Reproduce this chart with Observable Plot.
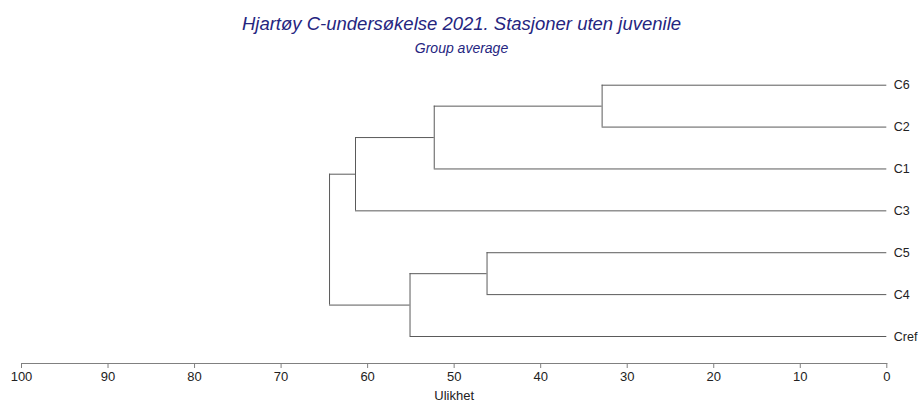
<!DOCTYPE html>
<html>
<head>
<meta charset="utf-8">
<script src="https://cdn.jsdelivr.net/npm/d3@7"></script>
<script src="https://cdn.jsdelivr.net/npm/@observablehq/plot@0.6"></script>
<style>
  html, body { margin: 0; padding: 0; background: #fff; }
  #wrap { position: relative; width: 923px; height: 401px; font-family: "Liberation Sans", Arial, sans-serif; }
  #head { position: relative; height: 52px; }
  .t1 { position: absolute; left: 0; width: 923px; top: 13px; text-align: center; font-size: 18.5px; line-height: 21px; font-style: italic; color: #25257f; }
  .t2 { position: absolute; left: 0; width: 923px; top: 40px; text-align: center; font-size: 14px; line-height: 16px; font-style: italic; color: #25257f; }
  svg { display: block; }
</style>
</head>
<body>
<div id="wrap">
  <div id="head">
    <div class="t1">Hjartøy C-undersøkelse 2021. Stasjoner uten juvenile</div>
    <div class="t2">Group average</div>
  </div>
  <div id="chart"></div>
</div>
<script>
// Leaves in display order (top to bottom)
const leaves = ["C6", "C2", "C1", "C3", "C5", "C4", "Cref"];
// Merges (group average clustering): ids, the two joined members, and dissimilarity level
const mergeIds = ["m1", "m2", "m3", "m4", "m5", "m6"];
const mergeA = ["C6", "m1", "m2", "C5", "m4", "m3"];
const mergeB = ["C2", "C1", "C3", "C4", "Cref", "m5"];
const mergeHeight = [32.9, 52.3, 61.4, 46.2, 55.1, 64.4];
const xTicks = [100, 90, 80, 70, 60, 50, 40, 30, 20, 10, 0];
const axisLabel = "Ulikhet";

// Build node positions
const pos = new Map();
leaves.forEach((l, i) => pos.set(l, { y: i, h: 0 }));
mergeIds.forEach((id, i) => {
  const a = pos.get(mergeA[i]), b = pos.get(mergeB[i]);
  pos.set(id, { y: (a.y + b.y) / 2, h: mergeHeight[i] });
});

const horiz = [];
const vert = [];
mergeIds.forEach((id, i) => {
  const a = pos.get(mergeA[i]), b = pos.get(mergeB[i]);
  const h = mergeHeight[i];
  horiz.push({ y: a.y, x1: a.h, x2: h });
  horiz.push({ y: b.y, x1: b.h, x2: h });
  vert.push({ x: h, y1: a.y, y2: b.y });
});
const leafData = leaves.map((l, i) => ({ name: l, y: i }));

const lineColor = "#5a5a5a";
const chart = Plot.plot({
  width: 923,
  height: 349,
  marginLeft: 21,
  marginRight: 36.7,
  marginTop: 20,
  marginBottom: 38,
  style: { fontFamily: "'Liberation Sans', Arial, sans-serif", background: "#fff" },
  x: { domain: [100, 0], ticks: xTicks },
  y: { domain: [0, 6], range: [32.7, 284], axis: null },
  marks: [
    Plot.frame({ anchor: "bottom", stroke: "#808080" }),
    Plot.axisX({ ticks: xTicks, tickSize: 5, tickPadding: 3, fontSize: 13, stroke: "#808080", color: "#222",
                 label: axisLabel, labelAnchor: "center", labelArrow: "none", labelOffset: 36 }),
    Plot.ruleY(horiz, { y: "y", x1: "x1", x2: "x2", stroke: lineColor, strokeWidth: 1 }),
    Plot.ruleX(vert, { x: "x", y1: "y1", y2: "y2", stroke: lineColor, strokeWidth: 1 }),
    Plot.text(leafData, { x: () => 0, y: "y", text: "name", textAnchor: "start", dx: 7, fontSize: 12.5, fill: "#222" })
  ]
});
document.getElementById("chart").appendChild(chart);
</script>
</body>
</html>
